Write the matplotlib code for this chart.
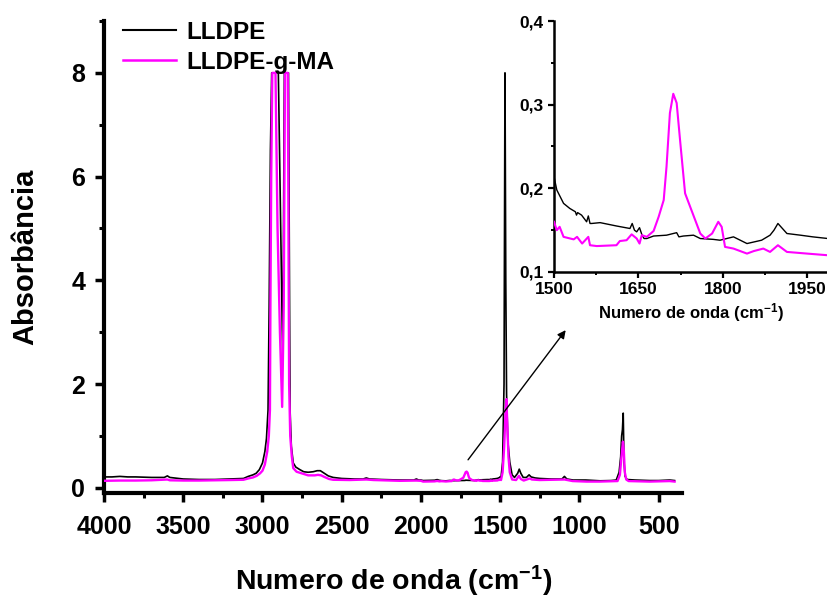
import numpy as np
import matplotlib
matplotlib.use("Agg")
import matplotlib.pyplot as plt
from matplotlib.ticker import MultipleLocator, FixedLocator, FuncFormatter
from matplotlib.lines import Line2D

plt.rcParams['font.family'] = ['Liberation Sans', 'DejaVu Sans']
plt.rcParams['font.weight'] = 'bold'
plt.rcParams['mathtext.fontset'] = 'custom'
plt.rcParams['mathtext.rm'] = 'Liberation Sans:bold'
plt.rcParams['mathtext.bf'] = 'Liberation Sans:bold'
plt.rcParams['mathtext.default'] = 'bf'

# ---------------- data ----------------
series_names = ["LLDPE", "LLDPE-g-MA"]
colors = ["#000000", "#ff00ff"]

# high wavenumber part (4000 -> 2000), LLDPE
hi_black_wn = [4000, 3950, 3900, 3850, 3800, 3700, 3620, 3600, 3585, 3500, 3400, 3300,
               3200, 3120, 3090, 3060, 3040, 3020, 3000, 2985, 2975, 2965, 2958, 2950,
               2942, 2900, 2872, 2862, 2836, 2830, 2826, 2818, 2806, 2790, 2764, 2740,
               2712, 2680, 2655, 2635, 2615, 2585, 2554, 2500, 2420, 2365, 2345, 2325,
               2250, 2134, 2045, 2029, 2015, 2000]
hi_black_abs = [0.21, 0.21, 0.22, 0.21, 0.21, 0.20, 0.20, 0.23, 0.20, 0.17, 0.16, 0.16,
                0.17, 0.18, 0.22, 0.25, 0.28, 0.35, 0.48, 0.70, 0.95, 1.5, 3.5, 6.5,
                8.0, 8.0, 2.4, 8.0, 8.0, 4.0, 1.5, 0.8, 0.48, 0.40, 0.35, 0.31,
                0.30, 0.31, 0.33, 0.33, 0.29, 0.23, 0.20, 0.18, 0.17, 0.17, 0.19, 0.17,
                0.16, 0.15, 0.15, 0.17, 0.15, 0.15]

# high wavenumber part, LLDPE-g-MA
hi_mag_wn = [4000, 3900, 3800, 3700, 3600, 3585, 3500, 3400, 3300, 3200, 3120, 3090,
             3060, 3037, 3015, 3000, 2985, 2970, 2960, 2953, 2950, 2945, 2938, 2918,
             2905, 2890, 2876, 2866, 2858, 2840, 2836, 2832, 2825, 2815, 2806, 2785,
             2764, 2712, 2670, 2650, 2630, 2610, 2580, 2554, 2450, 2344, 2300, 2134,
             2029, 2000]
hi_mag_abs = [0.135, 0.14, 0.14, 0.145, 0.16, 0.145, 0.14, 0.14, 0.145, 0.15, 0.155, 0.18,
              0.20, 0.23, 0.28, 0.33, 0.45, 0.70, 1.0, 1.5, 3.5, 6.0, 8.0, 8.0,
              5.0, 3.0, 1.56, 3.5, 8.0, 8.0, 5.0, 2.0, 1.0, 0.6, 0.38, 0.31,
              0.29, 0.24, 0.24, 0.25, 0.24, 0.21, 0.17, 0.155, 0.15, 0.16, 0.15, 0.135,
              0.14, 0.135]

# carbonyl region 1500-1987 (shown in inset), LLDPE
ins_black_wn = [1500, 1505, 1517, 1528, 1538, 1540, 1542, 1549, 1558, 1561, 1564, 1567,
                1582, 1611, 1635, 1639, 1643, 1647, 1652, 1656, 1660, 1665, 1677, 1700,
                1718, 1722, 1730, 1748, 1760, 1783, 1795, 1819, 1843, 1869, 1884, 1891,
                1898, 1906, 1914, 1938, 1960, 1987]
ins_black_abs = [0.214, 0.198, 0.182, 0.176, 0.172, 0.168, 0.171, 0.168, 0.160, 0.167, 0.158, 0.158,
                 0.159, 0.155, 0.152, 0.158, 0.150, 0.148, 0.153, 0.145, 0.140, 0.140, 0.143, 0.144,
                 0.147, 0.142, 0.143, 0.144, 0.140, 0.139, 0.138, 0.142, 0.134, 0.138, 0.144, 0.150,
                 0.158, 0.152, 0.146, 0.144, 0.142, 0.140]

# carbonyl region, LLDPE-g-MA
ins_mag_wn = [1500, 1505, 1510, 1517, 1535, 1541, 1550, 1561, 1564, 1576, 1611, 1617,
              1629, 1638, 1647, 1652, 1656, 1665, 1677, 1686, 1695, 1700, 1706, 1712,
              1718, 1724, 1733, 1742, 1751, 1760, 1769, 1781, 1792, 1798, 1804, 1819,
              1843, 1855, 1872, 1884, 1898, 1914, 1950, 1987]
ins_mag_abs = [0.160, 0.150, 0.154, 0.142, 0.139, 0.142, 0.134, 0.142, 0.132, 0.131, 0.132, 0.137,
               0.138, 0.145, 0.140, 0.134, 0.144, 0.142, 0.149, 0.166, 0.186, 0.226, 0.290, 0.313,
               0.302, 0.258, 0.194, 0.178, 0.162, 0.146, 0.140, 0.146, 0.160, 0.154, 0.130, 0.128,
               0.122, 0.125, 0.128, 0.124, 0.132, 0.124, 0.122, 0.120]

# low wavenumber part (1495 -> 400), LLDPE
lo_black_wn = [1495, 1485, 1476, 1470, 1465, 1460, 1452, 1440, 1425, 1410, 1390, 1380,
               1370, 1355, 1335, 1318, 1305, 1280, 1250, 1180, 1110, 1095, 1080, 1040,
               960, 900, 870, 800, 768, 750, 740, 734, 729, 724, 719, 712,
               700, 650, 557, 500, 431, 400]
lo_black_abs = [0.20, 0.50, 2.0, 8.0, 4.0, 1.8, 0.9, 0.5, 0.25, 0.20, 0.28, 0.36,
                0.28, 0.20, 0.20, 0.25, 0.21, 0.19, 0.18, 0.17, 0.17, 0.22, 0.17, 0.15,
                0.15, 0.14, 0.135, 0.14, 0.15, 0.30, 0.60, 1.00, 1.12, 1.44, 0.50, 0.22,
                0.16, 0.15, 0.14, 0.14, 0.15, 0.14]

# low wavenumber part, LLDPE-g-MA
lo_mag_wn = [1495, 1485, 1475, 1466, 1461, 1455, 1448, 1440, 1425, 1400, 1382, 1370,
             1352, 1314, 1300, 1251, 1094, 1043, 957, 873, 760, 745, 735, 726,
             720, 714, 705, 690, 557, 431, 400]
lo_mag_abs = [0.15, 0.30, 0.80, 1.50, 1.71, 1.20, 0.60, 0.30, 0.16, 0.15, 0.23, 0.17,
              0.14, 0.18, 0.16, 0.15, 0.16, 0.13, 0.12, 0.12, 0.13, 0.25, 0.60, 0.89,
              0.70, 0.30, 0.16, 0.13, 0.12, 0.13, 0.12]

main_xticks = [4000, 3500, 3000, 2500, 2000, 1500, 1000, 500]
main_yticks = [0, 2, 4, 6, 8]
inset_xticks = [1500, 1650, 1800, 1950]
inset_yticks = [0.1, 0.2, 0.3, 0.4]

# full spectra = high part + carbonyl region + low part
black_wn = np.concatenate([hi_black_wn, ins_black_wn[::-1], lo_black_wn])
black_abs = np.concatenate([hi_black_abs, ins_black_abs[::-1], lo_black_abs])
mag_wn = np.concatenate([hi_mag_wn, ins_mag_wn[::-1], lo_mag_wn])
mag_abs = np.concatenate([hi_mag_abs, ins_mag_abs[::-1], lo_mag_abs])

# ---------------- figure ----------------
W, H = 828, 601
fig = plt.figure(figsize=(W / 100, H / 100), dpi=100)

def fx(px):
    return px / W

def fy(py):
    return 1 - py / H

ax = fig.add_axes([fx(104), fy(493), fx(682.5 - 104), (493 - 21) / H])
ax.plot(black_wn, black_abs, color=colors[0], lw=1.2, zorder=2)
ax.plot(mag_wn, mag_abs, color=colors[1], lw=1.7, zorder=3)
ax.set_xlim(4000, 350)
ax.set_ylim(-0.1, 9.0)
for s in ['top', 'right']:
    ax.spines[s].set_visible(False)
for s in ['left', 'bottom']:
    ax.spines[s].set_linewidth(3.0)
ax.xaxis.set_major_locator(FixedLocator(main_xticks))
ax.xaxis.set_minor_locator(MultipleLocator(250))
ax.yaxis.set_major_locator(FixedLocator(main_yticks))
ax.yaxis.set_minor_locator(MultipleLocator(1))
ax.tick_params(which='major', direction='out', length=6.5, width=2.5, labelsize=18)
ax.tick_params(which='minor', direction='out', length=3.5, width=2.2)
ax.tick_params(axis='y', which='major', pad=7)
ax.tick_params(axis='x', which='major', pad=9)
for lab in ax.get_xticklabels() + ax.get_yticklabels():
    lab.set_fontweight('bold')

ax.set_xlabel('Numero de onda (cm$^{-1}$)', fontsize=20.5, fontweight='bold')
ax.xaxis.set_label_coords(0.5, -0.15)
ax.set_ylabel('Absorbância', fontsize=21, fontweight='bold')
ax.yaxis.set_label_coords(-0.112, 0.5)

handles = [Line2D([], [], color=colors[0], lw=1.5),
           Line2D([], [], color=colors[1], lw=1.8)]
ax.legend(handles, series_names, loc='upper left',
          bbox_to_anchor=((123 - 104) / 578.5, 1.0), frameon=False,
          prop={'size': 17.5, 'weight': 'bold'}, handlelength=2.2,
          handletextpad=0.4, labelspacing=0.28, borderpad=0, borderaxespad=0)

ax.annotate('', xy=(1087, 3.04), xytext=(1703, 0.54),
            arrowprops=dict(arrowstyle='-|>', color='black', lw=1.0,
                            mutation_scale=12, shrinkA=0, shrinkB=0))

# ---------------- inset ----------------
ins = fig.add_axes([fx(554), fy(272), fx(828 - 554), (272 - 21) / H])
ins.plot(ins_black_wn, ins_black_abs, color=colors[0], lw=1.0, zorder=2)
ins.plot(ins_mag_wn, ins_mag_abs, color=colors[1], lw=1.5, zorder=3)
ins.set_xlim(1500, 1987)
ins.set_ylim(0.1, 0.4)
ins.patch.set_alpha(0)
for s in ['top', 'right']:
    ins.spines[s].set_visible(False)
for s in ['left', 'bottom']:
    ins.spines[s].set_linewidth(1.8)
ins.xaxis.set_major_locator(FixedLocator(inset_xticks))
ins.xaxis.set_minor_locator(MultipleLocator(75))
ins.yaxis.set_major_locator(FixedLocator(inset_yticks))
ins.yaxis.set_minor_locator(MultipleLocator(0.05))
ins.yaxis.set_major_formatter(FuncFormatter(lambda v, p: f"{v:.1f}".replace('.', ',')))
ins.tick_params(which='major', direction='out', length=4.3, width=1.6, labelsize=12.5, pad=3)
ins.tick_params(which='minor', direction='out', length=2.4, width=1.4)
for lab in ins.get_xticklabels() + ins.get_yticklabels():
    lab.set_fontweight('bold')
ins.set_xlabel('Numero de onda (cm$^{-1}$)', fontsize=12, fontweight='bold', labelpad=3)

fig.savefig('out.png', dpi=100)
